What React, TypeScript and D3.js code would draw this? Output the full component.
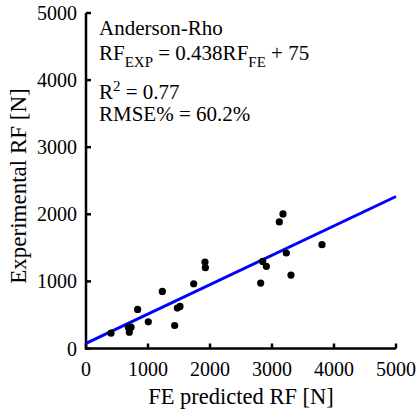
import React from "react";
import * as d3 from "d3";

const predictedRF = [403, 683, 726, 699, 833, 1005, 1231, 1430, 1473, 1516, 1737, 1919, 1925, 2817, 2849, 2909, 3118, 3177, 3231, 3306, 3806];
const experimentalRF = [229, 318, 318, 244, 582, 398, 851, 343, 602, 627, 965, 1289, 1204, 975, 1298, 1224, 1886, 2005, 1423, 1095, 1547];
const xTicks = [0, 1000, 2000, 3000, 4000, 5000];
const yTicks = [0, 1000, 2000, 3000, 4000, 5000];
const fitSlope = 0.438;
const fitIntercept = 75;
const fitRange = [0, 5000];

const W = 417;
const H = 414;
const FONT = "Liberation Serif";

export default function App() {
  const x = d3.scaleLinear().domain([0, 5000]).range([86, 396]);
  const y = d3.scaleLinear().domain([0, 5000]).range([348.5, 13]);
  const line = d3
    .line<number>()
    .x((d) => x(d))
    .y((d) => y(fitSlope * d + fitIntercept));
  const ts = { fontFamily: FONT };
  return (
    <svg
      width={W}
      height={H}
      style={{ position: "absolute", left: 0, top: 0, background: "#fff", fontFamily: FONT }}
    >
      {/* axes */}
      <line x1={x(0)} x2={x(0)} y1={y(5000)} y2={y(0) + 1} stroke="#000" strokeWidth={2.5} />
      <line x1={x(0) - 1} x2={x(5000)} y1={y(0)} y2={y(0)} stroke="#000" strokeWidth={2.5} />
      {xTicks.map((t) => (
        <g key={"x" + t}>
          <line x1={x(t)} x2={x(t)} y1={y(0)} y2={y(0) - 5} stroke="#000" strokeWidth={2.5} />
          <text x={x(t)} y={376} textAnchor="middle" fontSize={20} style={ts}>
            {t}
          </text>
        </g>
      ))}
      {yTicks.map((t) => (
        <g key={"y" + t}>
          <line x1={x(0)} x2={x(0) + 5} y1={y(t)} y2={y(t)} stroke="#000" strokeWidth={2.5} />
          <text x={77} y={y(t) + 7} textAnchor="end" fontSize={20} style={ts}>
            {t}
          </text>
        </g>
      ))}
      {/* fit line */}
      <path d={line(fitRange) || ""} stroke="#0000ff" strokeWidth={3} fill="none" />
      {/* points */}
      {predictedRF.map((v, i) => (
        <circle key={i} cx={x(v)} cy={y(experimentalRF[i])} r={3.6} fill="#000" />
      ))}
      {/* axis labels */}
      <text x={241} y={404} textAnchor="middle" fontSize={22.5} style={ts}>
        FE predicted RF [N]
      </text>
      <text
        transform={`translate(26,186) rotate(-90)`}
        textAnchor="middle"
        fontSize={23}
        style={ts}
      >
        Experimental RF [N]
      </text>
      {/* annotation */}
      <text x={99} y={35} fontSize={21} style={ts}>Anderson-Rho</text>
      <text x={99} y={60} fontSize={21} style={ts}>
        RF<tspan fontSize={15} dy={7}>EXP</tspan>
        <tspan dy={-7}> = 0.438RF</tspan>
        <tspan fontSize={15} dy={7}>FE</tspan>
        <tspan dy={-7}> + 75</tspan>
      </text>
      <text x={99} y={99} fontSize={21} style={ts}>
        R<tspan fontSize={15} dy={-8}>2</tspan>
        <tspan dy={8}> = 0.77</tspan>
      </text>
      <text x={99} y={121} fontSize={21} style={ts}>RMSE% = 60.2%</text>
    </svg>
  );
}
